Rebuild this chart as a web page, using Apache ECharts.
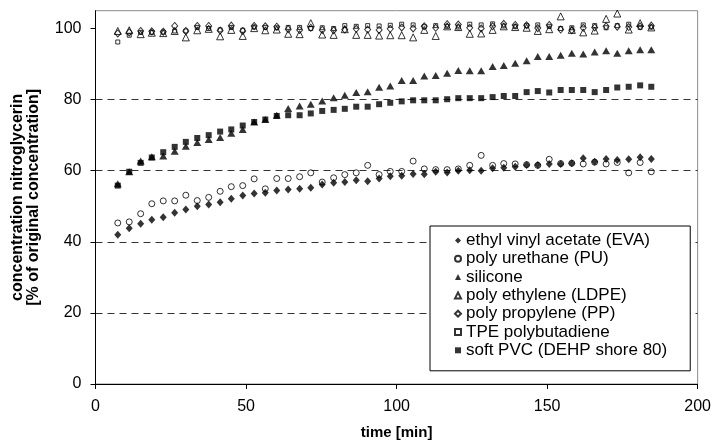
<!DOCTYPE html>
<html>
<head>
<meta charset="utf-8">
<script src="https://cdn.jsdelivr.net/npm/echarts@6/dist/echarts.min.js"></script>
<style>html,body{margin:0;padding:0;background:#fff}#c{width:714px;height:446px}</style>
</head>
<body>
<div id="c"></div>
<script>
// sampling times [min]
var times = [7.4, 11.2, 15.0, 18.7, 22.5, 26.3, 30.0, 33.8, 37.6, 41.4, 45.1, 48.9, 52.7, 56.4, 60.2, 64.0,
  67.8, 71.5, 75.3, 79.1, 82.8, 86.6, 90.4, 94.2, 97.9, 101.7, 105.5, 109.2, 113.0, 116.8, 120.5, 124.3,
  128.1, 131.9, 135.6, 139.4, 143.2, 146.9, 150.7, 154.5, 158.2, 162.0, 165.8, 169.6, 173.3, 177.1, 180.9, 184.6];

var evaValues = [42.0, 43.8, 45.1, 46.2, 46.9, 48.2, 49.1, 50.0, 50.5, 51.1, 52.1, 53.0, 53.6, 53.8, 54.4, 54.7,
  54.9, 55.2, 56.1, 56.6, 56.8, 57.3, 57.0, 57.8, 58.4, 58.6, 59.1, 59.0, 59.7, 59.5, 60.0, 60.1,
  60.0, 60.7, 60.8, 61.1, 61.6, 61.6, 61.9, 61.9, 62.1, 63.5, 62.5, 63.3, 63.0, 63.2, 63.8, 63.3];

var puValues = [45.3, 45.6, 47.9, 50.7, 51.5, 51.5, 53.1, 51.6, 52.5, 54.2, 55.5, 55.8, 57.7, 54.9, 57.8, 57.8,
  58.3, 59.4, 56.8, 58.0, 58.9, 59.4, 61.5, 58.9, 59.8, 59.8, 62.7, 60.5, 60.3, 60.3, 60.5, 61.5,
  64.3, 61.5, 62.0, 61.9, 61.7, 61.5, 63.2, 62.0, 62.1, 61.9, 62.4, 61.9, 62.3, 59.4, 62.3, 59.7];

var siliconeValues = [56.3, 59.7, 62.7, 63.9, 64.1, 65.5, 66.9, 67.9, 68.8, 69.3, 70.5, 71.6, 73.7, 74.4, 75.6, 77.5,
  78.2, 78.7, 79.6, 80.5, 81.2, 82.0, 82.2, 83.5, 83.8, 85.4, 85.4, 86.6, 86.8, 87.4, 88.2, 88.1,
  88.1, 89.3, 89.6, 90.2, 90.9, 92.1, 92.1, 92.5, 93.0, 92.8, 93.4, 93.7, 93.0, 93.7, 94.0, 94.0];

var ldpeValues = [99.3, 99.5, 98.4, 98.8, 98.7, 99.3, 97.5, 99.5, 99.9, 97.8, 99.6, 97.9, 100.1, 99.5, 99.7, 98.5,
  98.4, 101.5, 98.3, 98.2, 99.8, 98.2, 98.2, 98.0, 98.1, 98.1, 97.5, 99.6, 97.9, 100.6, 100.4, 98.5,
  98.6, 99.6, 100.6, 100.4, 100.2, 99.3, 99.8, 103.4, 99.6, 98.9, 99.4, 102.7, 104.2, 99.7, 101.5, 100.3];

var ppValues = [98.6, 98.9, 99.3, 99.2, 99.1, 100.7, 99.3, 100.7, 100.7, 99.4, 100.8, 99.3, 100.7, 100.6, 100.5, 99.8,
  99.6, 100.2, 99.6, 99.5, 99.7, 99.9, 99.7, 99.6, 99.9, 100.3, 100.0, 100.6, 100.2, 101.2, 101.1, 100.2,
  100.0, 100.6, 101.3, 101.0, 100.9, 100.1, 101.0, 99.7, 99.5, 100.2, 100.3, 100.6, 100.5, 100.4, 100.6, 100.8];

var tpeValues = [96.2, 98.1, 98.9, 98.9, 99.0, 99.3, 99.3, 100.3, 100.0, 99.6, 100.3, 99.5, 100.4, 100.3, 100.2, 100.3,
  100.3, 100.0, 100.2, 100.0, 100.8, 100.6, 100.8, 100.7, 100.9, 101.2, 101.0, 100.5, 100.8, 100.6, 100.4, 101.2,
  101.0, 101.3, 100.7, 100.5, 100.8, 101.0, 100.6, 100.0, 100.2, 101.0, 100.8, 100.2, 100.8, 101.2, 100.3, 100.4];

var pvcValues = [55.8, 59.7, 62.2, 63.7, 65.2, 66.7, 68.1, 69.2, 70.0, 71.0, 71.6, 72.7, 73.7, 74.4, 75.4, 75.6,
  75.6, 76.1, 76.8, 77.1, 77.4, 78.0, 78.0, 78.7, 79.1, 79.5, 79.8, 79.8, 79.8, 80.1, 80.4, 80.4,
  80.4, 80.7, 81.0, 81.0, 82.1, 82.4, 82.0, 82.7, 82.7, 82.7, 82.1, 82.7, 83.4, 83.6, 84.0, 83.6];

var seriesNames = ['ethyl vinyl acetate (EVA)', 'poly urethane (PU)', 'silicone', 'poly ethylene (LDPE)',
  'poly propylene (PP)', 'TPE polybutadiene', 'soft PVC (DEHP shore 80)'];

var yTickLabels = [0, 20, 40, 60, 80, 100];
var xTickLabels = [0, 50, 100, 150, 200];

function pairs(vals) { return times.map(function (t, i) { return [t, vals[i]]; }); }

var FONT = 'Liberation Sans, Arial, sans-serif';
var filled = { color: '#000', borderColor: '#000', borderWidth: 0 };
var open = { color: 'rgba(255,255,255,0)', borderColor: '#000', borderWidth: 1 };

var defs = [
  { vals: evaValues, symbol: 'diamond', size: [7, 8], style: filled },
  { vals: puValues, symbol: 'circle', size: 6, style: open },
  { vals: siliconeValues, symbol: 'triangle', size: [8, 7], style: filled },
  { vals: ldpeValues, symbol: 'triangle', size: [7, 7], style: open },
  { vals: ppValues, symbol: 'diamond', size: [6, 7], style: open },
  { vals: tpeValues, symbol: 'rect', size: 4, style: open },
  { vals: pvcValues, symbol: 'rect', size: 6, style: filled }
];

var series = defs.map(function (d, i) {
  return {
    name: seriesNames[i], type: 'scatter', data: pairs(d.vals),
    symbol: d.symbol, symbolSize: d.size, itemStyle: d.style,
    emphasis: { disabled: true }, animation: false, z: 10 - i
  };
});

var chart = echarts.init(document.getElementById('c'), null, { renderer: 'canvas' });
chart.setOption({
  animation: false,
  textStyle: { fontFamily: FONT },
  grid: { left: 95.5, right: 14.5, top: 10.7, bottom: 62, show: true, borderColor: '#8c8c8c', borderWidth: 1, backgroundColor: '#fff' },
  xAxis: {
    type: 'value', min: 0, max: 200, interval: 50,
    name: 'time [min]', nameLocation: 'middle', nameGap: 41,
    nameTextStyle: { fontFamily: FONT, fontWeight: 'bold', fontSize: 15, color: '#000' },
    axisLine: { show: true, onZero: false, lineStyle: { color: '#000', width: 1 } },
    axisTick: { show: true, inside: false, length: 5, lineStyle: { color: '#000' } },
    axisLabel: { fontFamily: FONT, fontSize: 16, color: '#000', margin: 15,
      customValues: xTickLabels },
    splitLine: { show: false }
  },
  yAxis: {
    type: 'value', min: 0, max: 105, interval: 20,
    name: 'concentration nitroglycerin\n[% of original concentration]',
    nameLocation: 'middle', nameGap: 54, nameRotate: 90,
    nameTextStyle: { fontFamily: FONT, fontWeight: 'bold', fontSize: 16, lineHeight: 16, color: '#000', align: 'center' },
    axisLine: { show: true, onZero: false, lineStyle: { color: '#000', width: 1 } },
    axisTick: { show: true, inside: false, length: 5, lineStyle: { color: '#000' }, customValues: yTickLabels },
    axisLabel: { fontFamily: FONT, fontSize: 16, color: '#000', margin: 14, customValues: yTickLabels },
    splitLine: { show: true, showMinLine: false, showMaxLine: false, lineStyle: { color: '#333', width: 1, type: [7, 5] } }
  },
  legend: {
    orient: 'vertical', left: 430, top: 226,
    data: seriesNames,
    backgroundColor: '#fff', borderColor: '#000', borderWidth: 1,
    padding: [6, 23, 12, 24],
    itemWidth: 6, itemHeight: 6, itemGap: 1.3,
    textStyle: { fontFamily: FONT, fontSize: 17, color: '#000', lineHeight: 17 },
    selectedMode: false
  },
  series: series
});
</script>
</body>
</html>
